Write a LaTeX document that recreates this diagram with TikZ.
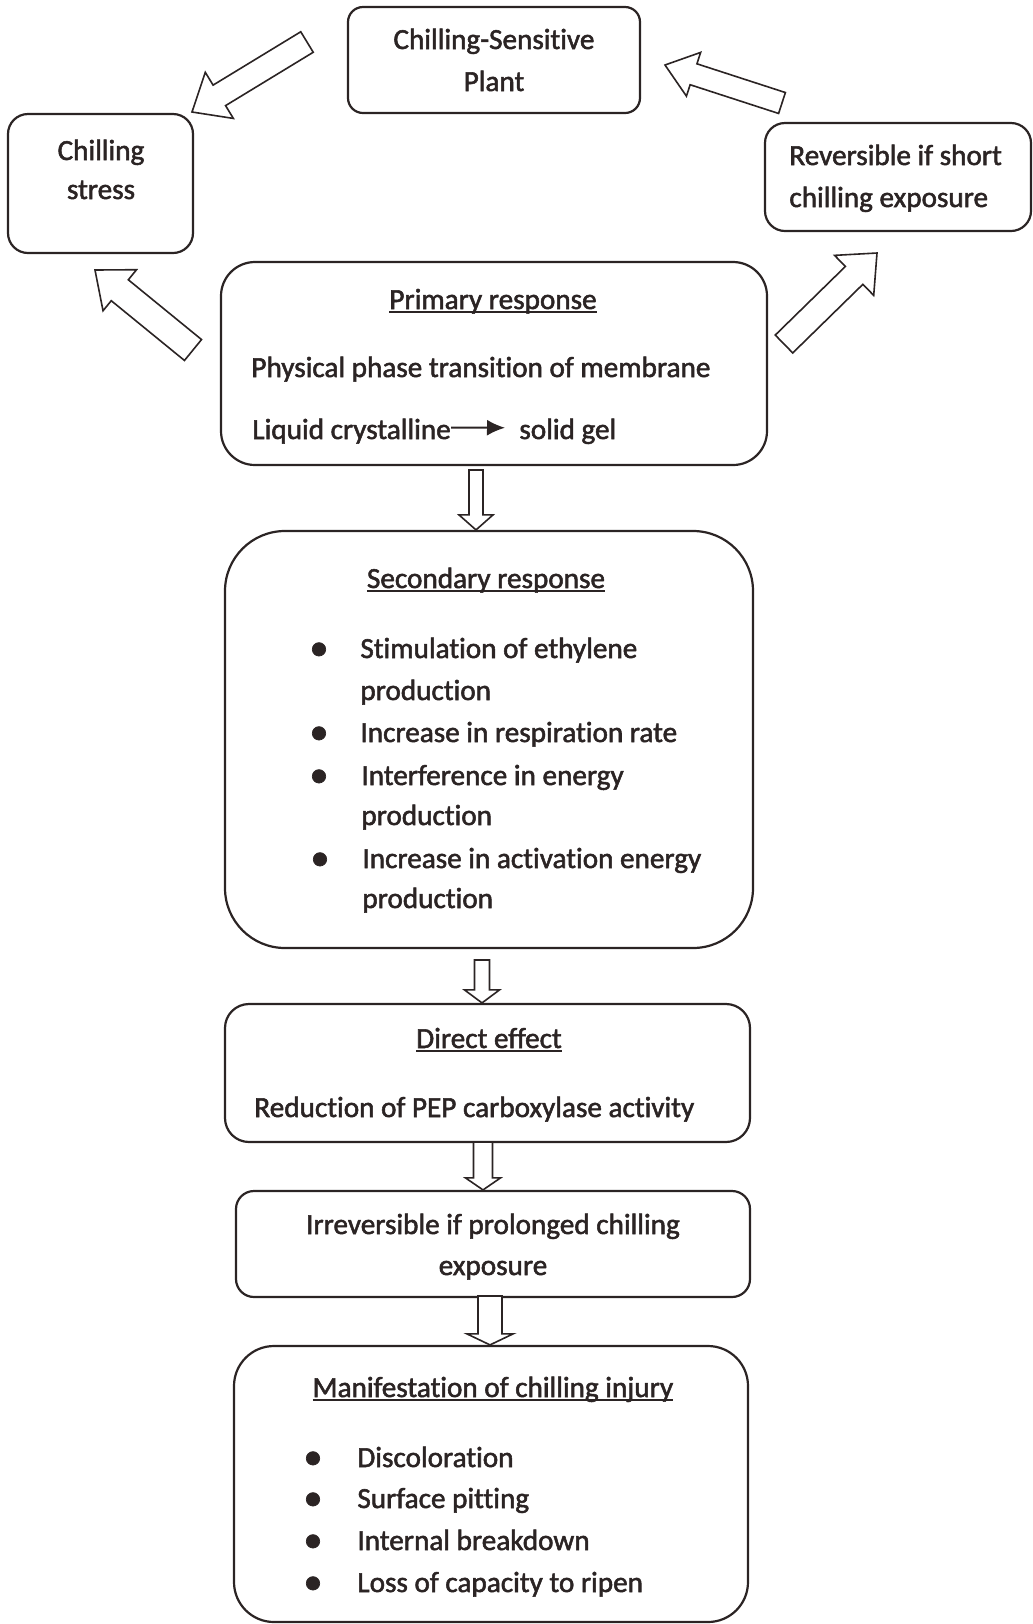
\documentclass[tikz,border=0pt]{standalone}
\usepackage{fontspec}
\setmainfont{Carlito}[FakeBold=1.8, Ligatures=NoCommon]
\usetikzlibrary{calc}
\usetikzlibrary{fit}
\usetikzlibrary{arrows.meta}

\definecolor{inkC}{RGB}{43,36,36}

% underline sitting close to the baseline
\newcommand{\ulin}[1]{\setbox0=\hbox{#1}\rlap{\rule[-1.9pt]{\wd0}{1.1pt}}\box0}
% larger list bullet
\newcommand{\blt}{{\fontsize{19}{20}\selectfont\textbullet}}

% hollow block arrow: tail, tip, half shaft, half head, head length
\newcommand{\hollowarrow}[5]{%
	\coordinate (hb) at ($(#2)!#5!(#1)$);
	\draw[arrowline] ($(#1)!#3!90:(#2)$) -- ($(hb)!#3!90:(#2)$) -- ($(hb)!#4!90:(#2)$) -- (#2)
		-- ($(hb)!#4!-90:(#2)$) -- ($(hb)!#3!-90:(#2)$) -- ($(#1)!#3!-90:(#2)$) -- cycle;
}

\tikzset{
	box/.style={draw=inkC, line width=1.1pt, inner sep=0pt, rounded corners=#1},
	box/.default=10pt,
	txt/.style={inner sep=0pt, anchor=base, text=inkC, font=\fontsize{14.6}{20.9}\selectfont},
	lefttxt/.style={txt, anchor=base west},
	arrowline/.style={draw=inkC, line width=0.8pt, fill=white, line join=miter}
}

\begin{document}
\begin{tikzpicture}[x=0.5pt,y=-0.5pt]

	\useasboundingbox (0,0) rectangle (1033,1624);

	%Top row
	%Chilling-Sensitive Plant
	\node[box=7.5pt, fit={(348,7) (640,113)}] (csp) {};
	\node[txt] (csp1) at (494,49) {Chilling-Sensitive};
	\node[txt] (csp2) at (494,91) {Plant};

	%Chilling stress
	\node[box=10pt, fit={(8,114) (193,253)}] (cs) {};
	\node[txt] (cs1) at (101,160) {Chilling};
	\node[txt] (cs2) at (101,199) {stress};

	%Reversible
	\node[box=10pt, fit={(765,123) (1031,231)}] (rev) {};
	\node[lefttxt] (rev1) at (789,165) {Reversible if short};
	\node[lefttxt] (rev2) at (789,207) {chilling exposure};

	%Primary response
	\node[box=17pt, fit={(221,262) (767,465)}] (prim) {};
	\node[txt] (prim0) at (493,309) {\ulin{Primary response}};
	\node[lefttxt] (prim1) at (251,377) {Physical phase transition of membrane};
	\node[lefttxt] (lq) at (252,439) {Liquid crystalline};
	\node[lefttxt] (sg) at (519,439) {solid gel};
	\draw[-{Latex[length=9pt,width=8pt]}, line width=1pt, draw=inkC, fill=inkC, shorten >=7pt]
		([yshift=1.8pt]lq.east) -- ([yshift=1.8pt]sg.west);

	%Secondary response
	\node[box=30pt, fit={(225,531) (753,948)}] (sec) {};
	\node[txt] (sec0) at (486,588) {\ulin{Secondary response}};
	\node[txt] (sb1) at (319,660) {\blt};
	\node[lefttxt] (st1) at (360,658) {Stimulation of ethylene};
	\node[lefttxt] (st2) at (360,700) {production};
	\node[txt] (sb2) at (319,744) {\blt};
	\node[lefttxt] (st3) at (360,742) {Increase in respiration rate};
	\node[txt] (sb3) at (319,787) {\blt};
	\node[lefttxt] (st4) at (361,785) {Interference in energy};
	\node[lefttxt] (st5) at (361,825) {production};
	\node[txt] (sb4) at (320,870) {\blt};
	\node[lefttxt] (st6) at (362,868) {Increase in activation energy};
	\node[lefttxt] (st7) at (362,908) {production};

	%Direct effect
	\node[box=12pt, fit={(225,1004) (750,1142)}] (dir) {};
	\node[txt] (dir0) at (489,1048) {\ulin{Direct effect}};
	\node[lefttxt] (dir1) at (254,1117) {Reduction of PEP carboxylase activity};

	%Irreversible
	\node[box=9pt, fit={(236,1191) (750,1297)}] (irr) {};
	\node[txt] (irr1) at (493,1234) {Irreversible if prolonged chilling};
	\node[txt] (irr2) at (493,1275) {exposure};

	%Manifestation
	\node[box=20pt, fit={(234,1346) (748,1622)}] (man) {};
	\node[txt] (man0) at (493,1397) {\ulin{Manifestation of chilling injury}};
	\node[txt] (mb1) at (313,1469) {\blt};
	\node[lefttxt] (mt1) at (357,1467) {Discoloration};
	\node[txt] (mb2) at (313,1510) {\blt};
	\node[lefttxt] (mt2) at (357,1508) {Surface pitting};
	\node[txt] (mb3) at (313,1552) {\blt};
	\node[lefttxt] (mt3) at (357,1550) {Internal breakdown};
	\node[txt] (mb4) at (313,1594) {\blt};
	\node[lefttxt] (mt4) at (357,1592) {Loss of capacity to ripen};

	%Cycle arrows
	\coordinate (cspT) at (307,42);
	\coordinate (csT) at (192,112);
	\hollowarrow{cspT}{csT}{6pt}{13.5pt}{16pt}
	\coordinate (revT) at (782,103);
	\coordinate (cspR) at (665,65);
	\hollowarrow{revT}{cspR}{5.5pt}{11.5pt}{15pt}
	\coordinate (primL) at (193,350);
	\coordinate (csB) at (95,270);
	\hollowarrow{primL}{csB}{6.75pt}{13.25pt}{16pt}
	\coordinate (primR) at (784,344);
	\coordinate (revB) at (877,253);
	\hollowarrow{primR}{revB}{6.25pt}{14pt}{16pt}

	%Down arrows
	\coordinate (d1) at (476,470);
	\hollowarrow{d1}{d1 |- sec.north}{3.5pt}{8.5pt}{7.5pt}
	\coordinate (d2) at (482,960);
	\hollowarrow{d2}{d2 |- dir.north}{3.75pt}{8.75pt}{6.5pt}
	\coordinate (d3) at (483,1142);
	\hollowarrow{d3}{d3 |- irr.north}{4.75pt}{8.75pt}{6pt}
	\coordinate (d4) at (490,1296);
	\hollowarrow{d4}{d4 |- man.north}{6pt}{11.5pt}{5.5pt}

\end{tikzpicture}
\end{document}
